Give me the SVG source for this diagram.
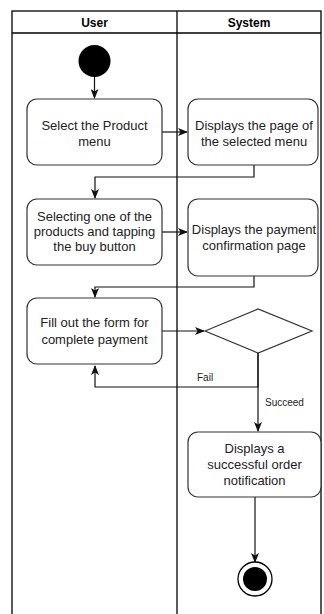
<svg xmlns="http://www.w3.org/2000/svg" width="324" height="614" viewBox="0 0 324 614">
<style>
.lane{fill:none;stroke:#000;stroke-width:1.3}
.hdr{font-family:"Liberation Sans",Arial,sans-serif;font-size:12px;font-weight:bold;fill:#000;text-anchor:middle}
.box{fill:#fff;stroke:#333;stroke-width:1.2}
.txt{font-family:"Liberation Sans",Arial,sans-serif;font-size:13px;fill:#222;text-anchor:middle}
.lbl{font-family:"Liberation Sans",Arial,sans-serif;font-size:10px;fill:#222}
.edge{fill:none;stroke:#111;stroke-width:1.2}
</style>
<defs>
<marker id="arr" viewBox="0 0 10 8" refX="9" refY="4" markerWidth="10" markerHeight="8" markerUnits="userSpaceOnUse" orient="auto">
<path d="M0,0 L10,4 L0,8 L2.5,4 Z" fill="#111"/>
</marker>
</defs>
<g id="pool">
<rect class="lane" x="12" y="11" width="309" height="612"/>
<line class="lane" x1="12" y1="33" x2="321" y2="33"/>
<line class="lane" x1="177" y1="11" x2="177" y2="623"/>
<text class="hdr" x="94.5" y="27">User</text>
<text class="hdr" x="249" y="27">System</text>
</g>
<g id="connectors">
<line class="edge" x1="94.5" y1="77" x2="94.5" y2="98" marker-end="url(#arr)"/>
<line class="edge" x1="162" y1="132" x2="187" y2="132" marker-end="url(#arr)"/>
<polyline class="edge" points="254,165 254,177 95,177 95,198" marker-end="url(#arr)"/>
<line class="edge" x1="162" y1="232" x2="187" y2="232" marker-end="url(#arr)"/>
<polyline class="edge" points="254,276 254,287 95,287 95,297" marker-end="url(#arr)"/>
<line class="edge" x1="162" y1="331" x2="204" y2="331" marker-end="url(#arr)"/>
<polyline class="edge" points="258,353 258,387 95,387 95,366" marker-end="url(#arr)"/>
<line class="edge" x1="258" y1="353" x2="258" y2="431" marker-end="url(#arr)"/>
<line class="edge" x1="255" y1="497" x2="255" y2="562" marker-end="url(#arr)"/>
<text class="lbl" x="197" y="381">Fail</text>
<text class="lbl" x="265" y="406">Succeed</text>
</g>
<g id="start">
<circle cx="94.5" cy="61" r="16" fill="#000"/>
</g>
<g id="n1">
<rect class="box" x="27" y="99" width="135" height="66" rx="10"/>
<text class="txt" x="94.5" y="129.5">Select the Product</text>
<text class="txt" x="94.5" y="145.5">menu</text>
</g>
<g id="n2">
<rect class="box" x="188" y="99" width="130" height="66" rx="10"/>
<text class="txt" x="254" y="129.5">Displays the page of</text>
<text class="txt" x="254" y="145.5">the selected menu</text>
</g>
<g id="n3">
<rect class="box" x="27" y="199" width="135" height="66" rx="10"/>
<text class="txt" x="94.5" y="221">Selecting one of the</text>
<text class="txt" x="94.5" y="236">products and tapping</text>
<text class="txt" x="94.5" y="251">the buy button</text>
</g>
<g id="n4">
<rect class="box" x="188" y="199" width="130" height="77" rx="10"/>
<text class="txt" x="254" y="233.5">Displays the payment</text>
<text class="txt" x="254" y="250">confirmation page</text>
</g>
<g id="n5">
<rect class="box" x="27" y="298" width="135" height="66" rx="10"/>
<text class="txt" x="94.5" y="327">Fill out the form for</text>
<text class="txt" x="94.5" y="344">complete payment</text>
</g>
<g id="decision">
<polygon class="box" points="205,331 258,309 312,331 258,353"/>
</g>
<g id="n6">
<rect class="box" x="188" y="432" width="133" height="65" rx="10"/>
<text class="txt" x="254.5" y="452.5">Displays a</text>
<text class="txt" x="254.5" y="468.5">successful order</text>
<text class="txt" x="254.5" y="484.5">notification</text>
</g>
<g id="end">
<circle cx="255" cy="579" r="17" fill="#fff" stroke="#000" stroke-width="1.3"/>
<circle cx="255" cy="579" r="12" fill="#000"/>
</g>
</svg>
